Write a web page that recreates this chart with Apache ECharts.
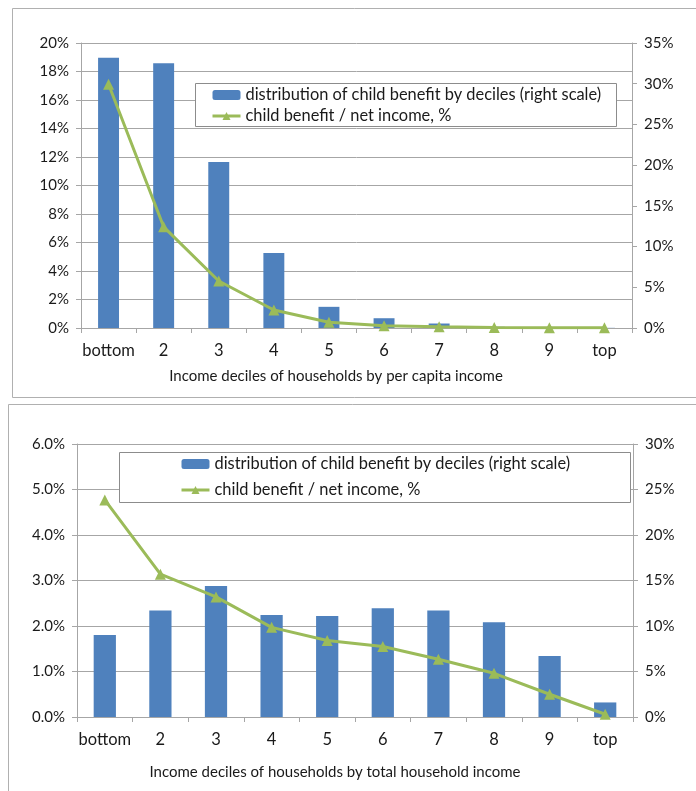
<!DOCTYPE html>
<html>
<head>
<meta charset="utf-8">
<script src="https://cdn.jsdelivr.net/npm/echarts@6/dist/echarts.min.js"></script>
<style>
html,body{margin:0;padding:0;background:#fff;}
#chart{width:696px;height:791px;}
</style>
</head>
<body>
<div id="chart"></div>
<script>
// ---- data ----
const categories = ['bottom', '2', '3', '4', '5', '6', '7', '8', '9', 'top'];
// top panel: per capita income deciles
const topShare = [33.2, 32.5, 20.4, 9.2, 2.6, 1.2, 0.55, 0.15, 0.05, 0.02]; // right scale
const topRatio = [17.1, 7.1, 3.3, 1.26, 0.4, 0.15, 0.08, 0.03, 0.02, 0.01]; // left scale
// bottom panel: total household income deciles
const bottomShare = [9.0, 11.7, 14.4, 11.2, 11.1, 11.95, 11.7, 10.4, 6.7, 1.6]; // right scale
const bottomRatio = [4.77, 3.14, 2.64, 1.97, 1.68, 1.55, 1.27, 0.96, 0.50, 0.06]; // left scale

const barName = 'distribution of child benefit by deciles (right scale)';
const lineName = 'child benefit / net income, %';
const topTitle = 'Income deciles of households by per capita income';
const bottomTitle = 'Income deciles of households by total household income';

const FONT = 'Lato';
const TXT = '#1a1a1a';
const GRID = '#a6a6a6';
const BAR = '#4f81bd';
const LINE = '#9bbb59';

const chart = echarts.init(document.getElementById('chart'), null, {renderer: 'canvas'});

function xAxis(gi) {
  return {
    type: 'category', gridIndex: gi, data: categories, boundaryGap: true,
    axisLine: {lineStyle: {color: GRID}},
    axisTick: {show: true, alignWithLabel: false, interval: 0, length: 5, lineStyle: {color: GRID}},
    axisLabel: {color: TXT, fontFamily: FONT, fontSize: 16.5, margin: 14, interval: 0}
  };
}
function yLeft(gi, max, interval, dec) {
  return {
    type: 'value', gridIndex: gi, position: 'left', min: 0, max: max, interval: interval,
    axisLine: {show: true, lineStyle: {color: GRID}},
    axisTick: {show: true, length: 5, lineStyle: {color: GRID}},
    splitLine: {show: true, lineStyle: {color: GRID}},
    axisLabel: {color: TXT, fontFamily: FONT, fontSize: 15, margin: 12,
      formatter: v => v.toFixed(dec) + '%'}
  };
}
function yRight(gi, max, interval) {
  return {
    type: 'value', gridIndex: gi, position: 'right', min: 0, max: max, interval: interval,
    axisLine: {show: true, lineStyle: {color: GRID}},
    axisTick: {show: true, length: 5, lineStyle: {color: GRID}},
    splitLine: {show: false},
    axisLabel: {color: TXT, fontFamily: FONT, fontSize: 15, margin: 12,
      formatter: v => v.toFixed(0) + '%'}
  };
}
function legend(left, top, gap, names) {
  return {
    left: left, top: top, orient: 'vertical', itemWidth: 28, itemHeight: 10, itemGap: gap,
    data: names, padding: 0,
    lineStyle: {width: 3},
    textStyle: {color: TXT, fontFamily: FONT, fontSize: 16.4, lineHeight: 16}
  };
}

const option = {
  backgroundColor: '#fff',
  animation: false,
  grid: [
    {left: 81, top: 43, width: 551, height: 285},
    {left: 77, top: 444, width: 556, height: 273}
  ],
  xAxis: [xAxis(0), xAxis(1)],
  yAxis: [
    yLeft(0, 20, 2, 0), yRight(0, 35, 5),
    yLeft(1, 6, 1, 1), yRight(1, 30, 5)
  ],
  legend: [
    legend(211, 87, 5, [barName, lineName]),
    legend(180, 456, 10, [barName + ' ', lineName + ' '])
  ],
  series: [
    {name: barName, type: 'bar', xAxisIndex: 0, yAxisIndex: 1, data: topShare,
     barWidth: '38%', itemStyle: {color: BAR}},
    {name: lineName, type: 'line', xAxisIndex: 0, yAxisIndex: 0, data: topRatio,
     symbol: 'triangle', symbolSize: 11, lineStyle: {color: LINE, width: 3},
     itemStyle: {color: LINE}, z: 3},
    {name: barName + ' ', type: 'bar', xAxisIndex: 1, yAxisIndex: 3, data: bottomShare,
     barWidth: '40%', itemStyle: {color: BAR}},
    {name: lineName + ' ', type: 'line', xAxisIndex: 1, yAxisIndex: 2, data: bottomRatio,
     symbol: 'triangle', symbolSize: 11, lineStyle: {color: LINE, width: 3},
     itemStyle: {color: LINE}, z: 3}
  ],
  graphic: [
    {type: 'rect', z: -10, shape: {x: 12.5, y: 8.5, width: 700, height: 389},
     style: {fill: '#fff', stroke: '#b0b0b0', lineWidth: 1}},
    {type: 'rect', z: -10, shape: {x: 8.5, y: 404.5, width: 700, height: 400},
     style: {fill: '#fff', stroke: '#b0b0b0', lineWidth: 1}},
    {type: 'rect', z: 1, shape: {x: 195.5, y: 83.5, width: 421, height: 43},
     style: {fill: '#fff', stroke: '#8c8c8c', lineWidth: 1}},
    {type: 'rect', z: 1, shape: {x: 119.5, y: 452.5, width: 511, height: 50},
     style: {fill: '#fff', stroke: '#8c8c8c', lineWidth: 1}},
    {type: 'text', z: 5, style: {x: 336, y: 376, text: topTitle, textAlign: 'center', textVerticalAlign: 'middle',
      fill: TXT, font: '15px ' + FONT}},
    {type: 'text', z: 5, style: {x: 335, y: 772, text: bottomTitle, textAlign: 'center', textVerticalAlign: 'middle',
      fill: TXT, font: '15px ' + FONT}}
  ]
};
chart.setOption(option);
</script>
</body>
</html>
